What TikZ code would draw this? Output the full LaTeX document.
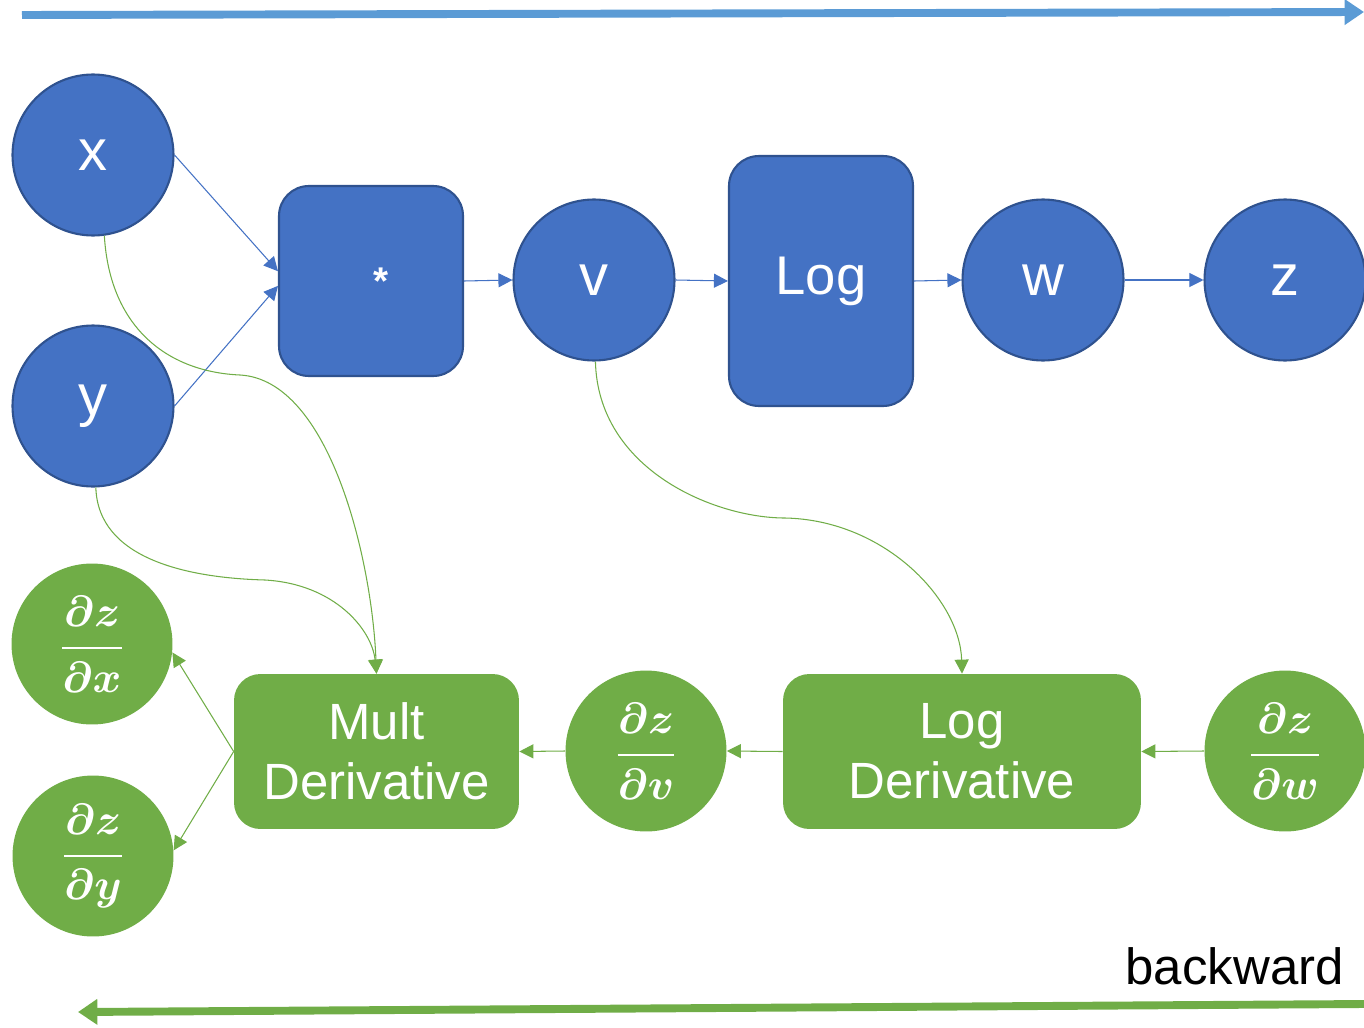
\documentclass[tikz,border=0pt]{standalone}
\usepackage{amsmath}
\usepackage{fontspec}
\setmainfont{Liberation Sans}
\usetikzlibrary{arrows.meta}
\definecolor{nblue}{HTML}{4472C4}
\definecolor{bborder}{HTML}{2F528F}
\definecolor{ngreen}{HTML}{70AD47}
\definecolor{abblue}{HTML}{5B9BD5}
\newcommand{\pfrac}[2]{\genfrac{}{}{1.4pt}{0}{#1}{#2}}
\tikzset{
  bcirc/.style={circle,fill=nblue,draw=bborder,line width=1.2pt,minimum size=3.22cm,inner sep=0pt,text=white,font=\fontsize{33}{38}\selectfont},
  brect/.style={rectangle,rounded corners=17pt,fill=nblue,draw=bborder,line width=1.2pt,inner sep=0pt,text=white},
  gcirc/.style={circle,fill=ngreen,minimum size=3.22cm,inner sep=0pt,text=white,font=\fontsize{32}{36}\selectfont\boldmath},
  grect/.style={rectangle,rounded corners=15pt,fill=ngreen,inner sep=0pt,text=white,align=center,font=\fontsize{29}{34}\selectfont},
  barrow/.style={draw=nblue,line width=0.6pt,-{Triangle[length=8pt,width=8pt]}},
  garrow/.style={draw=ngreen,line width=0.6pt,-{Triangle[length=8pt,width=8pt]}},
}
\begin{document}
\begin{tikzpicture}[x=0.02cm,y=-0.02cm]
\useasboundingbox (0,0) rectangle (1364,1027);
% big arrows
\coordinate (fs) at (22,15);
\coordinate (fe) at (1364,12);
\draw[abblue,line width=4.5pt,-{Triangle[length=11pt,width=14pt]}] (fs) -- (fe);
\coordinate (bs) at (1364,1004);
\coordinate (be) at (78,1012);
\draw[ngreen,line width=4.5pt,-{Triangle[length=11pt,width=14pt]}] (bs) -- (be);
% forward nodes
\node[bcirc] (nx) at (93,155) {x};
\node[bcirc] (ny) at (93,406) {y};
\node[brect,minimum width=3.68cm,minimum height=3.8cm,font=\bfseries\fontsize{22}{24}\selectfont] (mul) at (371,281) {\hspace*{0.4cm}*};
\node[bcirc] (nv) at (594,280) {v};
\node[brect,minimum width=3.68cm,minimum height=5cm,font=\fontsize{31}{36}\selectfont] (log) at (821,281) {Log};
\node[bcirc] (nw) at (1043,280) {w};
\node[bcirc] (nz) at (1285,280) {z};
% backward nodes
\node[gcirc] (dx) at (92,644) {$\pfrac{\partial z}{\partial x}$};
\node[gcirc] (dy) at (93,856) {$\pfrac{\partial z}{\partial y}$};
\node[grect,minimum width=5.7cm,minimum height=3.1cm] (mder) at (376.5,751.5) {Mult\\Derivative};
\node[gcirc] (dv) at (646,751) {$\pfrac{\partial z}{\partial v}$};
\node[grect,minimum width=7.16cm,minimum height=3.1cm] (lder) at (962,751.5) {Log\\Derivative};
\node[gcirc] (dw) at (1285,751) {$\pfrac{\partial z}{\partial w}$};
% label
\node[anchor=south east,inner sep=0pt,font=\fontsize{29}{34}\selectfont] (lbl) at (1344,985) {backward};
% forward connectors
\draw[barrow] (nx.east) -- (mul.174);
\draw[barrow] (ny.east) -- (mul.-177);
\draw[barrow] (mul.east) -- (nv.west);
\draw[barrow] (nv.east) -- (log.west);
\draw[barrow] (log.east) -- (nw.west);
\draw[barrow] (nw.east) -- (nz.west);
% backward connectors
\draw[garrow] (mder.west) -- (dx.-6);
\draw[garrow] (mder.west) -- (dy.4);
\draw[garrow] (dv.west) -- (mder.east);
\draw[garrow] (lder.west) -- (dv.east);
\draw[garrow] (dw.west) -- (lder.east);
% curves
\coordinate (c1) at (240,375);
\draw[garrow] (nx.-82) .. controls (110,330) and (170,372) .. (c1) .. controls (330,380) and (372,560) .. (mder.north);
\coordinate (c2) at (265,580);
\draw[garrow] (ny.-88) .. controls (98,560) and (190,578) .. (c2) .. controls (335,584) and (372,630) .. (mder.north);
\coordinate (c3) at (785,518);
\draw[garrow] (nv.-89) .. controls (598,470) and (715,518) .. (c3) .. controls (885,520) and (960,600) .. (lder.north);
\end{tikzpicture}
\end{document}
